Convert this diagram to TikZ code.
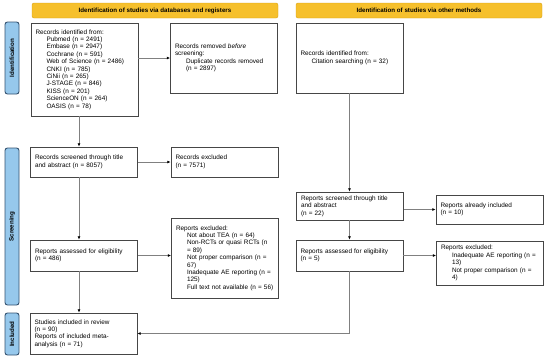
\documentclass[tikz,border=0pt]{standalone}
\usepackage{fontspec}
\setmainfont{Liberation Sans}
\usetikzlibrary{arrows.meta, positioning}
\usepackage{xcolor}
\definecolor{bannergold}{RGB}{246, 192, 44}
\definecolor{bannerrim}{RGB}{214, 160, 20}
\definecolor{phaseblue}{RGB}{150, 200, 236}
\definecolor{phaserim}{RGB}{52, 82, 112}
\definecolor{boxrim}{RGB}{70, 70, 70}
\definecolor{linkgray}{RGB}{128, 128, 128}
\newcommand{\itemind}{\hspace*{11pt}}
\tikzset{
  rec/.style      = {rectangle, draw=boxrim, line width=0.8pt, fill=white, align=left, text width=98pt, inner xsep=4.5pt, inner ysep=2pt, font=\fontsize{6.4}{7.4}\selectfont},
  banner/.style   = {rectangle, rounded corners=2pt, draw=bannerrim, fill=bannergold, minimum width=246pt, minimum height=15pt, inner sep=0pt, font=\fontsize{6.2}{7}\selectfont\bfseries},
  phase/.style    = {rectangle, rounded corners=2.5pt, draw=phaserim, line width=0.9pt, fill=phaseblue, rotate=90, minimum height=14pt, inner sep=0pt, font=\fontsize{6.2}{7}\selectfont\bfseries},
  flow/.style     = {-{Latex[length=3.2pt, width=2.8pt, black]}, linkgray, line width=0.6pt},
}
\begin{document}
\begin{tikzpicture}[x=1pt, y=-1pt]
\useasboundingbox (0, 0) rectangle (550, 360);

% ================= Banners =================
\node (dbhead)    [banner] at (155, 10.5) {Identification of studies via databases and registers};
\node (otherhead) [banner] at (419, 10.5) {Identification of studies via other methods};

% ================= Phases =================
\node (phaseid)  [phase, minimum width=72pt]  at (12, 58)    {Identification};
\node (phasescr) [phase, minimum width=157pt] at (12, 226.5) {Screening};
\node (phaseinc) [phase, minimum width=42pt]  at (12, 334)   {Included};

% ================= Databases and registers =================
\node (idbox)    [rec, minimum height=93pt] at (84.5, 69.5) {Records identified from:\\
  \itemind Pubmed (n = 2491)\\
  \itemind Embase (n = 2947)\\
  \itemind Cochrane (n = 591)\\
  \itemind Web of Science (n = 2486)\\
  \itemind CNKI (n = 785)\\
  \itemind CiNii (n = 265)\\
  \itemind J-STAGE (n = 846)\\
  \itemind KISS (n = 201)\\
  \itemind ScienceON (n = 264)\\
  \itemind OASIS (n = 78)};
\node (removed)  [rec, minimum height=70pt] at (224, 58) {Records removed \textit{before}\\screening:\\
  \itemind Duplicate records removed\\
  \itemind (n = 2897)};
\node (screened) [rec, minimum height=30pt] at (84, 162)    {Records screened through title\\and abstract (n = 8057)};
\node (excluded) [rec, minimum height=30pt] at (224.5, 162) {Records excluded\\(n = 7571)};
\node (assessed) [rec, minimum height=31pt] at (84, 255.5)  {Reports assessed for eligibility\\(n = 486)};
\node (repexcl)  [rec, minimum height=80pt] at (225, 258)   {Reports excluded:\\
  \itemind Not about TEA (n = 64)\\
  \itemind Non-RCTs or quasi RCTs (n\\
  \itemind = 89)\\
  \itemind Not proper comparison (n =\\
  \itemind 67)\\
  \itemind Inadequate AE reporting (n =\\
  \itemind 125)\\
  \itemind Full text not available (n = 56)};
\node (included) [rec, minimum height=41pt] at (83.5, 333.5) {Studies included in review\\(n = 90)\\Reports of included meta-\\analysis (n = 71)};

% ================= Other methods =================
\node (otherbox)  [rec, minimum height=70pt] at (349.5, 58)   {Records identified from:\\
  \itemind Citation searching (n = 32)};
\node (rscreened) [rec, minimum height=28pt] at (350, 206)    {Reports screened through title\\and abstract\\(n = 22)};
\node (ralready)  [rec, minimum height=29pt] at (489.5, 209.5) {Reports already included\\(n = 10)};
\node (rassessed) [rec, minimum height=31pt] at (349.5, 255.5) {Reports assessed for eligibility\\(n = 5)};
\node (rexcluded) [rec, minimum height=44pt] at (490, 263)    {Reports excluded:\\
  \itemind Inadequate AE reporting (n =\\
  \itemind 13)\\
  \itemind Not proper comparison (n =\\
  \itemind 4)};

% ================= Flow =================
% databases and registers
\draw [flow] ([xshift=-5.5pt]idbox.south) -- ([xshift=-5pt]screened.north);
\draw [flow] (idbox.east |- removed.west) -- (removed.west);
\draw [flow] (screened.east) -- (excluded.west);
\draw [flow] ([xshift=-5pt]screened.south) -- ([xshift=-5pt]assessed.north);
\draw [flow] (assessed.east) -- (assessed.east -| repexcl.west);
\draw [flow] ([xshift=-5pt]assessed.south) -- ([xshift=-4.5pt]included.north);

% other methods
\draw [flow] (otherbox.south) -- (rscreened.north -| otherbox.south);
\draw [flow] (rscreened.east |- ralready.west) -- (ralready.west);
\draw [flow] (rscreened.south -| rassessed.north) -- (rassessed.north);
\draw [flow] (rassessed.east) -- (rassessed.east -| rexcluded.west);
\draw [flow] (rassessed.south) |- (included.east);

\end{tikzpicture}
\end{document}
